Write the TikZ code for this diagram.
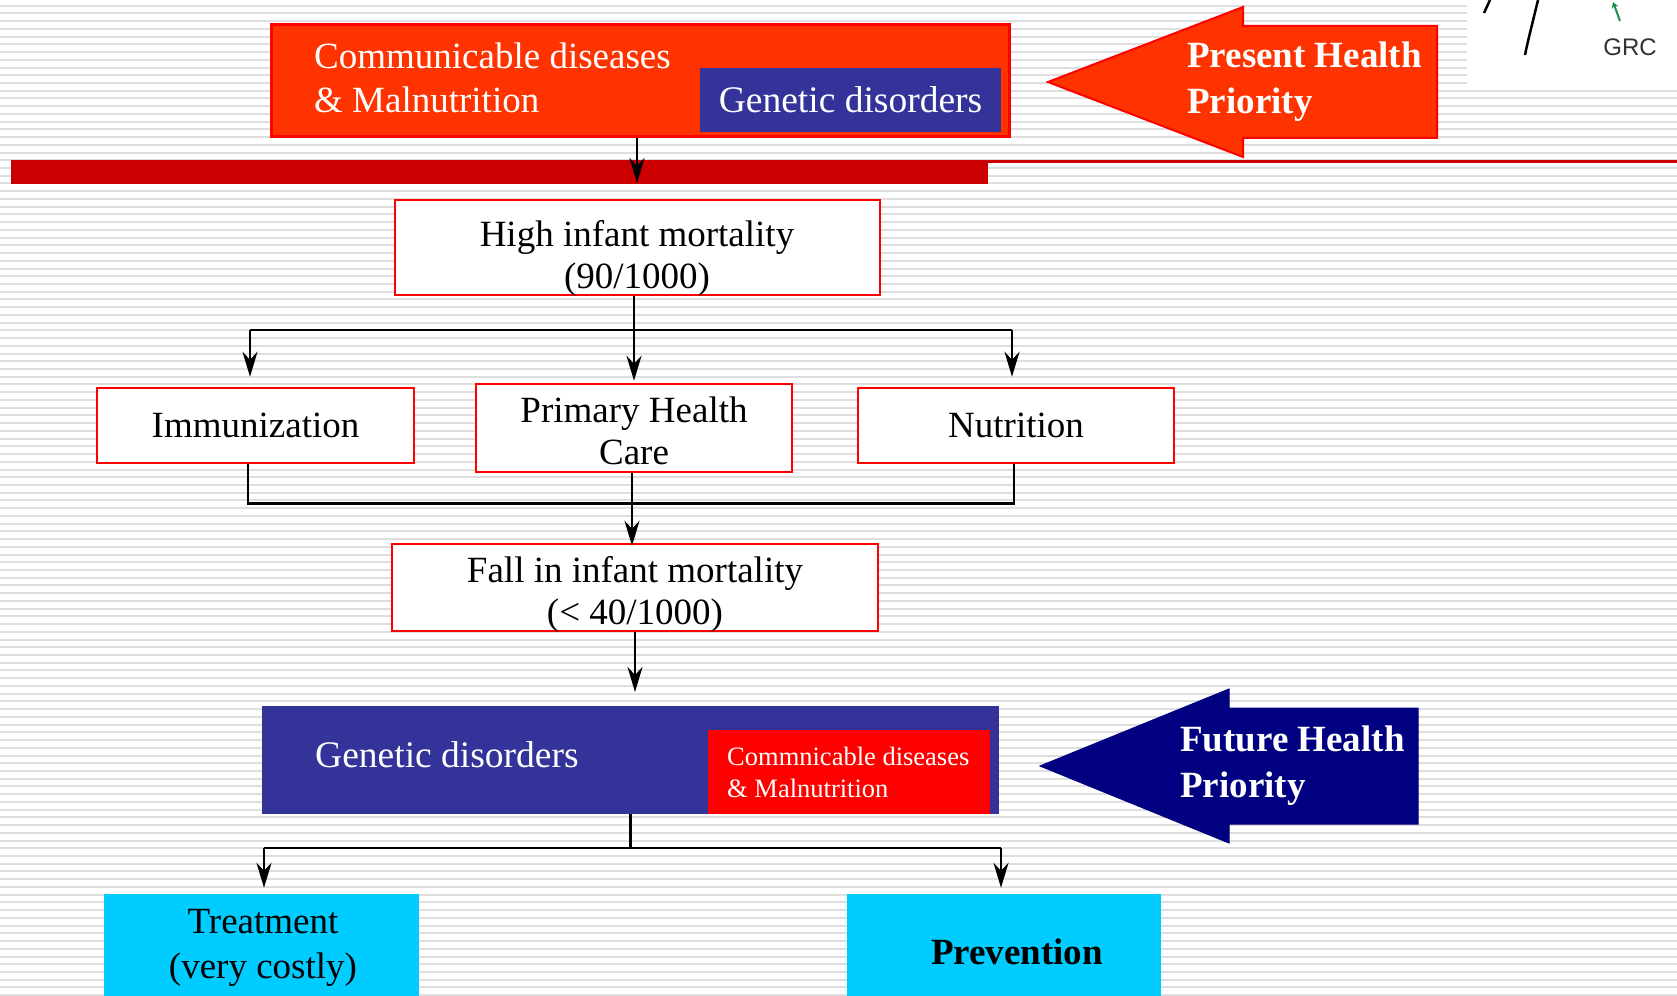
\documentclass[tikz,border=0pt]{standalone}
\usepackage{fontspec}
\setmainfont{Liberation Serif}
\newfontfamily\grcsans{Liberation Sans}
\usetikzlibrary{arrows.meta,calc}
\definecolor{orred}{HTML}{FF3300}
\definecolor{bordred}{HTML}{FF0000}
\definecolor{gblue}{HTML}{333399}
\definecolor{navyb}{HTML}{000080}
\definecolor{barred}{HTML}{CC0000}
\definecolor{cyanb}{HTML}{00CCFF}
\definecolor{stripeg}{HTML}{DEDEDE}
\definecolor{grcgreen}{HTML}{1E9050}
\newcommand\myfs[2]{\fontsize{#1}{#2}\selectfont}
\begin{document}
\begin{tikzpicture}[x=1pt,y=-1pt,
  stripe/.style={stripeg, line width=2pt},
  wbox/.style={draw=bordred, line width=2.5pt, fill=white, inner sep=0pt, align=center, font=\myfs{37}{43}},
  btxt/.style={inner sep=0pt, align=center, font=\myfs{37}{42}},
  cbox/.style={fill=cyanb, inner sep=0pt, align=center, font=\myfs{37}{45}},
  ln/.style={line width=2.6pt, black},
  arr/.style={line width=2.6pt, black, -{Stealth[length=25pt,width=15pt,inset=8pt]}},
  wtxt/.style={text=white, inner sep=0pt, align=left}
]
\useasboundingbox (0,0) rectangle (1677,995);
% background
\fill[white] (0,0) rectangle (1677,995);
\foreach \i in {0,...,128} \draw[stripe] (0,5.7+7.73*\i) -- (1677,5.7+7.73*\i);
\fill[white] (1467,0) rectangle (1677,84);
\draw[black, line width=2.5pt] (1490,0) -- (1484,13);
\draw[black, line width=2.5pt] (1538,0) .. controls (1532,25) and (1528,40) .. (1525,55);
\draw[grcgreen, line width=2pt, -{Stealth[length=6pt,width=7pt]}] (1620,21) -- (1613,2);
\node[text=black!80, inner sep=0pt, font=\grcsans\myfs{24}{28}] (grc) at (1630,47) {GRC};

% top present box
\node[draw=bordred, line width=3pt, fill=orred, minimum width=738, minimum height=112, inner sep=0pt] (top) at (640,81) {};
\node[wtxt, anchor=west, font=\myfs{37}{44}] (toptext) at (314,78) {Communicable diseases\\\& Malnutrition};
\node[fill=gblue, minimum width=301, minimum height=64, inner sep=0pt, text=white, font=\myfs{37.5}{43}] (gtop) at (850.5,100) {Genetic disorders};

% red bar
\node[fill=barred, minimum width=977, minimum height=24, inner sep=0pt] (bar) at (499.5,172) {};
\coordinate (barend) at (1677,161.5);
\draw[barred, line width=3pt] (bar.north east |- barend) -- (barend);
\draw[arr] ([xshift=-3pt]top.south) -- ([xshift=-3pt]top.south |- 0,183);

% present arrow
\draw[draw=bordred, line width=2pt, fill=orred] (1048,82) -- (1243,7) -- (1243,26) -- (1437,26) -- (1437,138) -- (1243,138) -- (1243,157) -- cycle;
\node[wtxt, anchor=west, font=\bfseries\myfs{37}{46}] (ptext) at (1187,82) {Present Health\\Priority};

% middle boxes
\node[wbox, minimum width=485, minimum height=95] (high) at (637.5,247.5) {};
\node[btxt] (hightext) at (637,258) {High infant mortality\\(90/1000)};
\node[wbox, minimum width=317, minimum height=75] (imm) at (255.5,425.5) {Immunization};
\node[wbox, minimum width=316, minimum height=88] (prim) at (634,428) {};
\node[btxt] (primtext) at (634,431) {Primary Health\\Care};
\node[wbox, minimum width=316, minimum height=75] (nut) at (1016,425.5) {Nutrition};
\node[wbox, minimum width=486, minimum height=87] (fall) at (635,587.5) {};
\node[btxt] (falltext) at (635,594) {Fall in infant mortality\\(< 40/1000)};

\coordinate (bl) at (250,330);
\coordinate (br) at (1012,330);
\draw[ln] (bl) -- (br);
\draw[arr, shorten >=10pt] (bl) -- (bl |- imm.north);
\draw[arr, shorten >=10pt] (br) -- (br |- nut.north);
\draw[arr, shorten >=2pt] (prim.north |- high.south) -- (prim.north);

\draw[ln] ([xshift=-7.5pt]imm.south) -- ++(0,39) -| ([xshift=-2pt]nut.south);
\draw[arr, shorten >=-3pt] ([xshift=-2pt]prim.south) -- ([xshift=-2pt]prim.south |- fall.north);
\draw[arr, shorten >=14pt] (fall.south) -- (fall.south |- 0,706);

% bottom future box
\node[fill=gblue, minimum width=737, minimum height=108, inner sep=0pt] (gen2) at (630.5,760) {};
\node[wtxt, anchor=west, font=\myfs{37.5}{43}] (gen2text) at (315,755) {Genetic disorders};
\node[fill=red, minimum width=282, minimum height=84, inner sep=0pt] (comm2) at (849,772) {};
\node[wtxt, anchor=west, font=\myfs{26.5}{32}] (comm2text) at (727,772) {Commnicable diseases\\\& Malnutrition};

% future arrow
\draw[draw=navyb, line width=1pt, fill=navyb] (1040,766) -- (1229,689) -- (1229,708) -- (1418,708) -- (1418,824) -- (1229,824) -- (1229,843) -- cycle;
\node[wtxt, anchor=west, font=\bfseries\myfs{37}{46}] (ftext) at (1180,766) {Future Health\\Priority};

% bottom boxes
\node[cbox, minimum width=315, minimum height=106] (treat) at (261.5,947) {};
\node[btxt, font=\myfs{37}{45}] (treattext) at (263,948) {Treatment\\(very costly)};
\node[cbox, minimum width=314, minimum height=106] (prev) at (1004,947) {};
\node[inner sep=0pt, font=\bfseries\myfs{37}{43}] (prevtext) at (1017,952) {Prevention};

\coordinate (dl) at (264,848);
\coordinate (dr) at (1001,848);
\draw[ln] (gen2.south) -- (gen2.south |- dl);
\draw[ln] (dl) -- (dr);
\draw[arr, shorten >=6pt] (dl) -- (dl |- treat.north);
\draw[arr, shorten >=6pt] (dr) -- (dr |- prev.north);
\end{tikzpicture}
\end{document}
